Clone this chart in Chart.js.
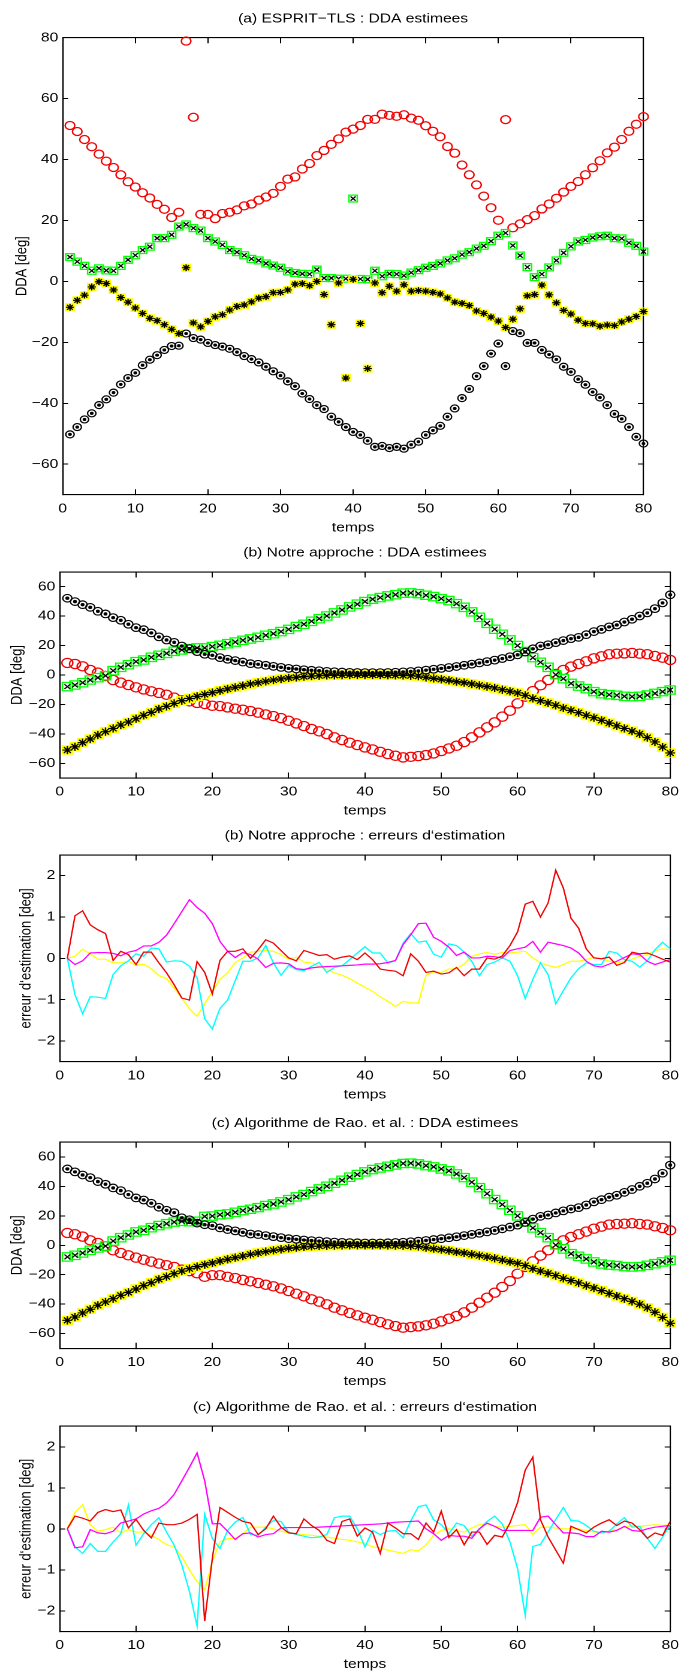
<!DOCTYPE html>
<html><head><meta charset="utf-8">
<script src="https://cdn.jsdelivr.net/npm/chart.js@4.4.1/dist/chart.umd.min.js"></script>
<style>
html,body{margin:0;padding:0;background:#fff;}
body{width:693px;height:1672px;position:relative;overflow:hidden;}
.p{position:absolute;left:0;transform-origin:0 0;transform:scaleX(1.19896);}
canvas{display:block;}
</style></head><body>
<div class="p" style="top:0px"><canvas id="ca" width="578" height="540"></canvas></div>
<div class="p" style="top:540px"><canvas id="cb" width="578" height="285"></canvas></div>
<div class="p" style="top:825px"><canvas id="cc" width="578" height="285"></canvas></div>
<div class="p" style="top:1110px"><canvas id="cd" width="578" height="285"></canvas></div>
<div class="p" style="top:1395px"><canvas id="ce" width="578" height="277"></canvas></div>
<script>
// ---------- data ----------
const temps = [1,2,3,4,5,6,7,8,9,10,11,12,13,14,15,16,17,18,19,20,21,22,23,24,25,26,27,28,29,30,31,32,33,34,35,36,37,38,39,40,41,42,43,44,45,46,47,48,49,50,51,52,53,54,55,56,57,58,59,60,61,62,63,64,65,66,67,68,69,70,71,72,73,74,75,76,77,78,79,80];
const xTicks = [0,10,20,30,40,50,60,70,80];
const yTicksA = [-60,-40,-20,0,20,40,60,80];
const yTicksDDA = [-60,-40,-20,0,20,40,60];
const yTicksErr = [-2,-1,0,1,2];

// (a) ESPRIT-TLS
const aRed = [51.2,49.2,46.6,44.2,41.8,39.5,37.4,35,32.7,31,29.1,27.4,25.3,23.7,21,22.7,78.9,53.9,22,22,20.6,22.3,22.7,23.5,24.8,25.4,26.7,27.7,28.9,31.2,33.6,34.3,36.9,38.7,41.3,43,45,46.8,49,50,51.2,53.2,53.2,54.9,54.5,54.2,54.7,53.6,52.9,51.1,49.3,47.5,44.3,42.1,38.2,35,31.7,28,24.2,20.1,53.1,17.6,18.9,20.3,21.6,23.8,25.4,27.3,29.3,31.2,32.8,35,37.3,39.6,42.2,44.1,46.6,49.3,51.6,54.1];
const aGreen = [8,6.5,5.1,3.5,4.3,3.6,3.5,5.1,7.1,8.6,10.3,11.4,14.2,14.2,15.3,18,18.7,17.5,16.7,14.2,13.1,12,10.3,9.6,8.6,7.4,6.9,5.9,5.2,4.5,3.3,2.8,2.5,2.4,3.9,1.1,1.1,0.9,0.9,27.2,0.8,0.7,3.5,1.7,2.5,2.4,1.9,2.9,3.7,4.5,5.1,5.9,6.9,7.6,8.8,9.6,10.8,11.7,13.2,15,15.9,11.8,8.5,4.7,1.4,2.4,4.6,6.9,9.4,11.5,13.1,13.6,14.4,14.8,15,14.2,14.1,12.7,11.7,9.8];
const aYellow = [-8.5,-6.2,-4.5,-1.8,-0.1,-0.7,-2.8,-5.3,-6.8,-8.7,-10.5,-12.1,-12.9,-14.2,-15.7,-17.1,4.5,-13.6,-14.9,-13.1,-11.6,-10.9,-9.4,-8.2,-7.7,-6.7,-5.5,-5,-3.7,-3.6,-2.8,-0.9,-0.7,-1.4,0,-4.3,-14.2,-0.5,-31.7,0.7,-13.8,-28.6,-0.5,-3.7,-1.6,-3.2,-1.1,-3.2,-3,-3.2,-3.6,-4.1,-5.4,-6.8,-7.2,-7.9,-9.7,-10.5,-11.7,-13,-15.1,-12.4,-9,-4.7,-4.3,-1.2,-4.4,-7,-9.5,-10.7,-12.7,-13.8,-13.9,-14.7,-14.3,-14.5,-13.3,-12.4,-11.5,-9.9];
const aBlack = [-50.2,-47.8,-45.3,-43.3,-40.6,-38.7,-36.5,-33.8,-31.7,-30,-27.5,-25.7,-24.2,-22.5,-21.2,-21.1,-17.1,-18.6,-19.1,-20.2,-20.9,-21.4,-22.1,-23.2,-24.5,-25.5,-26.6,-28,-29.5,-30.9,-32.8,-34.4,-36.8,-38.6,-40.6,-41.9,-44.4,-46.1,-47.8,-49.4,-50.4,-52.3,-54.3,-54,-54.7,-54.3,-54.9,-53.6,-52.6,-50.4,-48.9,-47.4,-44.4,-41.7,-38.3,-35.3,-31.1,-27.8,-23.7,-20.4,-27.8,-16.3,-17,-20.2,-20.2,-22.5,-24,-25.6,-28,-29.7,-32.1,-33.9,-36.3,-38.1,-40.6,-43.5,-45.1,-47.8,-51,-53.2];

// (b) Notre approche
const bBlack = [52.2,49.9,47.8,46,43.3,41.5,39,37.2,34.5,32.2,30.8,28.6,25.9,23.8,22.2,19.7,17.9,15.9,14.1,13.4,11.8,10.7,9.8,8.8,7.7,7.3,6.6,5.9,5.2,4.5,4.1,3.6,3.2,2.9,2.5,2.2,2,1.8,1.7,1.6,1.6,1.6,1.7,1.9,2.1,2.4,2.8,3.3,3.9,4.5,5.1,5.8,6.6,7.4,8.2,9.1,10.1,11.2,12.4,13.7,15.6,17.8,19.7,20.6,22,23.4,24.7,25.6,27.4,29.5,31,32.7,34,36,37.9,40.1,42.2,45.1,49,54.5];
const bGreen = [-7.9,-6.8,-5.2,-3.4,-1.8,-0.5,2.9,5.2,7,9.1,10.2,12,13.4,14.7,16.1,17,17.9,18.4,18.4,19.3,20.2,21.3,22.4,23.6,24.5,25.6,27,28.1,29.5,31,32.9,34.5,36.5,38.3,40.1,42.2,44.2,46.3,48.1,49.9,51.5,52.6,53.7,54.6,55.6,55.8,55.3,54.2,53.3,51.9,50.6,48.5,46,42.9,39.2,35.1,31.1,27.7,23.8,20,15.9,11.8,8.6,5.2,0.2,-2.5,-5.7,-7.5,-9.3,-11.3,-12.7,-13.4,-13.8,-14.5,-14.7,-14.5,-13.6,-12.5,-11.3,-10.2];
const bRed = [8.2,7.5,5.9,3.4,1.6,-0.7,-3.4,-5.2,-6.8,-8.4,-9.8,-11.1,-12.2,-13.4,-15.4,-17.2,-17.9,-19,-19.7,-20.9,-21.1,-22,-22.9,-23.6,-24.5,-25.6,-26.8,-27.9,-29.3,-31.1,-32.9,-34.7,-36.7,-38.3,-40.1,-42.4,-44.2,-46,-47.6,-49.2,-50.6,-52.2,-53.7,-54.9,-56,-55.6,-55.1,-54.4,-53.3,-51.7,-49.9,-48.1,-45.6,-42.4,-39,-35.6,-32.2,-28.3,-24.3,-19.3,-14.7,-10.9,-7,-3.4,0.7,3.4,5.7,7.5,9.3,11.3,12.7,14.1,14.5,14.7,15,14.5,14.1,12.9,11.8,10.2];
const bYellow = [-51,-48.8,-46,-43.5,-40.8,-38.5,-36.3,-34,-32,-29.7,-27.4,-25.4,-23.1,-21.3,-19.3,-17.5,-15.9,-14.5,-13.2,-12,-10.7,-9.5,-8.4,-7.3,-6.1,-5.2,-4.3,-3.4,-2.7,-2,-1.6,-1.1,-0.7,-0.5,-0.3,-0.2,-0.1,0,0,0,0,0,-0.1,-0.2,-0.3,-0.5,-0.8,-1.6,-2.3,-2.9,-3.6,-4.5,-5.2,-6.1,-7,-7.9,-8.8,-10,-11.1,-12.2,-13.8,-15.9,-17.5,-19,-20.6,-22.4,-24,-25.6,-27.4,-29,-30.8,-32.7,-34.5,-36.3,-38.1,-40,-42.5,-45.5,-49,-53];
const bErrRed = [0,1.03,1.15,0.81,0.69,0.6,-0.05,0.17,0.09,-0.15,0.15,0.15,-0.11,-0.35,-0.64,-0.96,-1.01,-0.08,-0.34,-0.86,-0.05,0.17,0.17,0.23,0,0.21,0.45,0.37,0.19,0.01,-0.06,0.19,0.13,0.07,0.09,-0.02,0.03,0.06,-0.03,0.13,-0.03,-0.26,-0.29,-0.31,-0.42,0.11,-0.07,-0.34,-0.31,-0.38,-0.35,-0.22,-0.42,-0.26,-0.26,0.01,-0.02,0.06,0.31,0.64,1.31,1.38,1,1.34,2.13,1.7,0.97,0.73,0.23,0.01,-0.01,0.03,-0.17,-0.1,0.15,0.11,0.13,0.06,-0.02,-0.09];
const bErrMagenta = [0,-0.15,-0.06,0.13,0.14,0.14,0.12,0.06,0.15,0.19,0.3,0.3,0.39,0.56,0.84,1.13,1.42,1.23,1.09,0.84,0.41,0.17,0.02,0.14,0.09,-0.02,-0.22,-0.12,-0.11,-0.13,-0.25,-0.27,-0.23,-0.21,-0.2,-0.19,-0.18,-0.17,-0.16,-0.14,-0.14,-0.13,-0.1,-0.05,0.33,0.57,0.84,0.85,0.51,0.41,0.27,0.07,0.15,0.01,0.01,0.05,0.04,0.01,0.19,0.23,0.27,0.41,0.15,0.39,0.35,0.31,0.25,0.13,-0.07,-0.18,-0.21,-0.14,-0.07,0.02,0.11,0.09,-0.07,-0.15,-0.09,-0.03];
const bErrYellow = [0,0.05,0.22,0.11,-0.02,-0.02,-0.11,-0.11,-0.07,-0.17,-0.14,-0.25,-0.42,-0.49,-0.72,-0.96,-1.22,-1.4,-1.1,-0.8,-0.51,-0.35,-0.1,0.01,0.15,0.17,0.19,0.17,0.09,-0.02,0.03,-0.09,-0.11,-0.19,-0.27,-0.35,-0.41,-0.49,-0.6,-0.7,-0.8,-0.93,-1.04,-1.16,-1.04,-1.08,-1.08,-0.41,-0.33,-0.34,-0.26,-0.25,-0.14,0.05,0.11,0.14,0.1,0.14,0.13,0.15,0.17,0.01,-0.11,-0.17,-0.22,-0.15,-0.07,-0.07,-0.03,0.03,-0.01,-0.07,-0.11,-0.07,-0.02,0.05,0.09,0.19,0.23,0.21];
const bErrCyan = [0,-0.88,-1.34,-0.93,-0.94,-0.97,-0.39,-0.18,-0.06,0.11,0.05,0.25,0.23,-0.09,-0.06,-0.07,-0.19,-0.47,-1.46,-1.71,-1.21,-1.01,-0.54,-0.07,-0.07,0.01,0.31,-0.11,-0.41,-0.17,-0.27,-0.3,-0.19,-0.1,-0.34,-0.22,-0.18,-0.03,0.13,0.28,0.13,0.13,-0.11,-0.06,0.37,0.6,0.39,0.42,0.1,0.03,0.35,0.31,0.15,-0.07,-0.42,-0.15,-0.09,0.01,-0.07,-0.42,-0.97,-0.51,-0.11,-0.39,-1.1,-0.78,-0.47,-0.25,-0.11,-0.15,-0.15,0.17,0.13,-0.03,-0.07,-0.21,-0.06,0.21,0.39,0.23];

// (c) Algorithme de Rao et al.
const cBlack = [51.9,49.9,47.8,46,43.3,41.5,39,37.2,34.5,32.2,30.8,28.6,25.9,23.8,22.2,18.7,17.4,15.1,14,13.4,11.8,10.7,9.8,8.8,7.7,7.3,6.6,5.9,5.2,4.5,4.1,3.6,3.2,2.9,2.5,2.2,2,1.8,1.7,1.6,1.6,1.6,1.7,1.9,2.1,2.4,2.8,3.3,3.9,4.5,5.1,5.8,6.6,7.4,8.2,9.1,10.1,11.2,12.4,13.7,15.6,17.8,19.7,20.6,22,23.4,24.7,25.6,27.4,29.5,31,32.7,34,36,37.9,40.1,42.2,45.1,49,54.5];
const cGreen = [-7.9,-6.8,-5.2,-3.4,-1.8,-0.5,2.9,5.2,7,9.1,10.2,12,13.4,14.7,15.8,16.3,16,16.3,19.6,19.9,20.8,21.3,22.4,23.6,24.5,25.6,27,28.1,29.5,31,32.9,34.5,36.5,38.3,40.1,42.2,44.2,46.3,48.1,49.9,51.5,52.6,53.7,54.6,55.6,55.8,55.3,54.2,53.3,51.9,50.6,48.5,46,42.9,39.2,35.1,31.1,27.7,23.8,20,15.9,11.8,8.6,5.2,0.2,-2.5,-5.7,-7.5,-9.3,-11.3,-12.7,-13.4,-13.8,-14.5,-14.7,-14.5,-13.6,-12.5,-11.3,-10.2];
const cRed = [8.4,7.5,5.9,3.4,1.6,-0.7,-3.4,-5.2,-6.8,-8.4,-9.8,-11.1,-12.4,-13.5,-14.7,-16.5,-17.6,-19,-21.4,-20.3,-20.3,-21.4,-22.3,-23.5,-24.5,-25.6,-26.8,-27.9,-29.3,-31.1,-32.9,-34.7,-36.7,-38.3,-40.1,-42.4,-44.2,-46,-47.6,-49.2,-50.6,-52.2,-53.7,-54.9,-56,-55.6,-55.1,-54.4,-53.3,-51.7,-49.9,-48.1,-45.6,-42.4,-39,-35.6,-32.2,-28.3,-24.3,-19.3,-14.7,-10.9,-7,-3.4,0.7,3.4,5.7,7.5,9.3,11.3,12.7,14.1,14.5,14.7,15,14.5,14.1,12.9,11.8,10.2];
const cYellow = [-51,-48.8,-46,-43.5,-40.8,-38.5,-36.3,-34,-32,-29.7,-27.4,-25.4,-23.1,-21.3,-19.3,-17.5,-15.9,-14.5,-13.2,-12,-10.7,-9.5,-8.4,-7.3,-6.1,-5.2,-4.3,-3.4,-2.7,-2,-1.6,-1.1,-0.7,-0.5,-0.3,-0.2,-0.1,0,0,0,0,0,-0.1,-0.2,-0.3,-0.5,-0.8,-1.6,-2.3,-2.9,-3.6,-4.5,-5.2,-6.1,-7,-7.9,-8.8,-10,-11.1,-12.2,-13.8,-15.9,-17.5,-19,-20.6,-22.4,-24,-25.6,-27.4,-29,-30.8,-32.7,-34.5,-36.3,-38.1,-40,-42.5,-45.5,-49,-53];
const cErrRed = [0,0.31,0.26,0.19,0.4,0.47,0.42,0.46,0.02,0.23,-0.04,-0.22,0.14,0.1,0.1,0.14,0.23,0.35,-2.25,-0.72,0.52,0.4,0.28,0.18,0.14,-0.14,0,0.31,0.04,-0.1,-0.12,0.24,0.08,-0.04,-0.28,-0.36,0.18,0.24,-0.18,0.02,-0.08,-0.6,0.14,0.02,-0.12,-0.12,-0.26,0.14,-0.08,0.43,-0.21,-0.02,-0.39,-0.08,-0.08,-0.38,-0.16,-0.2,0.14,0.64,1.43,1.75,0.22,-0.2,-0.52,-0.84,0.06,-0.02,-0.1,0.04,0.14,0.22,0.08,0.19,0.14,-0.02,-0.23,-0.1,-0.16,0.18];
const cErrMagenta = [0,-0.46,-0.44,-0.02,-0.1,-0.12,-0.06,0.14,0.19,0.24,0.36,0.44,0.5,0.63,0.84,1.17,1.5,1.85,1.17,0.12,0.13,-0.06,-0.26,-0.12,-0.1,-0.2,-0.14,-0.12,0.02,0.03,0.03,0.03,0.03,0.04,0.05,0.06,0.07,0.08,0.09,0.1,0.11,0.12,0.14,0.16,0.17,0.18,0.19,0,-0.12,-0.28,-0.16,-0.18,-0.18,-0.23,0,0.14,0.06,-0.04,-0.04,-0.04,-0.04,-0.04,0.28,0.31,0.1,-0.1,-0.1,-0.12,-0.19,-0.19,-0.06,-0.08,-0.04,0.06,-0.04,-0.06,0,0.04,0.06,0.08];
const cErrYellow = [0,0.4,0.59,0.1,-0.06,-0.02,0.04,-0.1,-0.02,-0.08,-0.08,-0.16,-0.26,-0.39,-0.44,-0.68,-1,-1.29,-1.49,-0.8,-0.32,-0.24,-0.23,-0.12,0.04,0.04,0.04,0,-0.06,-0.1,-0.12,-0.14,-0.16,-0.18,-0.2,-0.23,-0.26,-0.28,-0.32,-0.36,-0.44,-0.47,-0.52,-0.56,-0.6,-0.51,-0.54,-0.39,-0.16,-0.04,0,-0.04,-0.08,0.02,0.1,0.12,0.06,0.04,0.06,0.08,0.1,-0.14,0.04,0.04,0.02,0,0,0,-0.04,-0.08,-0.1,-0.06,-0.02,0.04,0.08,0.06,0.08,0.1,0.08,0.1];
const cErrCyan = [0,-0.44,-0.6,-0.36,-0.55,-0.55,-0.32,-0.12,0.58,-0.4,-0.12,0.1,0.27,-0.08,-0.4,-0.88,-1.53,-2.37,0.36,-0.24,-0.48,-0.04,0.16,0.28,-0.14,-0.16,0.04,0.2,0.18,-0.08,-0.14,-0.18,-0.22,-0.2,-0.14,0.27,0.31,0.31,0,-0.44,-0.04,-0.14,-0.06,-0.04,-0.22,0.19,0.54,0.58,0.22,0.1,-0.12,0.14,0.08,-0.18,0,0.18,0.31,0.12,-0.32,-0.97,-2.11,-0.43,-0.38,-0.08,0.23,0.52,0.2,0.19,0.08,-0.06,-0.1,-0.06,0.12,0.27,0.04,0.06,-0.23,-0.48,-0.2,0.1];

// ---------- helpers ----------
const FONT = "'Liberation Sans', Arial, Helvetica, sans-serif";
Chart.defaults.font.family = FONT;
Chart.defaults.font.size = 13;
Chart.defaults.color = '#000';
const RED='#f00000', GREEN='#00ff00', YEL='#ffff00', BLK='#000000', CYA='#00ffff', MAG='#ff00ff';

const minus = v => String(v).replace('-', '\u2212');
const pts = vals => vals.map((v,i)=>({x:temps[i], y:v}));
const setTicks = arr => (s => { s.ticks = arr.map(v=>({value:v})); });

function makeScales(L){
  const gx = {drawOnChartArea:false, drawTicks:true, tickLength:-5.5, color:'#000', lineWidth:1};
  const gy = {drawOnChartArea:false, drawTicks:true, tickLength:-4.6, color:'#000', lineWidth:1};
  const border = {display:true, color:'#000', width:1.1};
  return {
    x:{type:'linear', position:'bottom', min:0, max:80, afterBuildTicks:setTicks(xTicks),
       grid:gx, border, ticks:{padding:11.8, callback:minus, autoSkip:false, maxRotation:0},
       title:{display:true, text:'temps', padding:{top:0,bottom:L.xtb}},
       afterFit:s=>{s.height=L.xh;}},
    x2:{type:'linear', position:'top', min:0, max:80, afterBuildTicks:setTicks(xTicks),
       grid:gx, border, ticks:{display:false}, afterFit:s=>{s.height=0;}},
    y:{type:'linear', position:'left', min:L.ymin, max:L.ymax, afterBuildTicks:setTicks(L.yt),
       grid:gy, border, ticks:{padding:8.3, callback:minus, autoSkip:false},
       title:{display:true, text:L.ytitle, padding:{top:L.ytp,bottom:0}},
       afterFit:s=>{s.width=L.left;}},
    y2:{type:'linear', position:'right', min:L.ymin, max:L.ymax, afterBuildTicks:setTicks(L.yt),
       grid:gy, border, ticks:{display:false}, afterFit:s=>{s.width=L.rw;}}
  };
}

function baseOptions(L){
  return {
    responsive:false, animation:false, devicePixelRatio:2, events:[],
    layout:{padding:0},
    plugins:{
      legend:{display:false}, tooltip:{enabled:false},
      title:{display:true, text:L.title, fullSize:false, color:'#000',
             font:{size:13, weight:'normal'}, padding:{top:L.tpt, bottom:L.tpb}}
    },
    scales:makeScales(L)
  };
}

function marker(data, style, r, stroke, fill, order, w){
  return {data:pts(data), showLine:false, clip:false, pointStyle:style, pointRadius:r,
          pointBorderColor:stroke, pointBackgroundColor:fill, pointBorderWidth:w||1.15, order:order};
}
function ddaSets(red, green, yellow, black, S){
  return [
    marker(red, 'circle', S.rc, RED, 'rgba(0,0,0,0)', 6, 1.25),
    marker(green, 'rect', S.sq, GREEN, 'rgba(0,0,0,0)', 5, 1.25),
    marker(green, 'crossRot', S.x, BLK, BLK, 4),
    marker(yellow, 'rect', S.sq, YEL, YEL, 3),
    marker(yellow, 'star', S.st, BLK, BLK, 2),
    marker(black, 'circle', S.bc, BLK, 'rgba(0,0,0,0)', 1),
    marker(black, 'circle', S.dot, BLK, BLK, 0)
  ];
}
function line(data, color, order){
  return {data:pts(data), showLine:true, pointRadius:0, borderColor:color, borderWidth:1.2,
          tension:0, clip:false, order:order};
}
function errSets(red, mag, yel, cya){
  return [line(red,RED,0), line(mag,MAG,1), line(cya,CYA,2), line(yel,YEL,3)];
}

// ---------- panels ----------
const smallA = {rc:4, sq:4.9, x:3, st:3.4, bc:3.5, dot:1};
const bigM = {rc:4.6, sq:5.9, x:3.4, st:4.1, bc:3.8, dot:1.1};

new Chart(document.getElementById('ca'), {type:'scatter',
  data:{datasets:ddaSets(aRed, aGreen, aYellow, aBlack, smallA)},
  options:baseOptions({title:'(a) ESPRIT\u2212TLS : DDA estimees', tpt:10.9, tpb:11.2,
    xh:45.3, xtb:4.5, ymin:-70, ymax:80, yt:yTicksA, ytitle:'DDA [deg]', ytp:10.5, left:52.3, rw:41.3})});

new Chart(document.getElementById('cb'), {type:'scatter',
  data:{datasets:ddaSets(bRed, bGreen, bYellow, bBlack, bigM)},
  options:baseOptions({title:'(b) Notre approche : DDA estimees', tpt:5.2, tpb:11.2,
    xh:47, xtb:6.2, ymin:-70, ymax:70, yt:yTicksDDA, ytitle:'DDA [deg]', ytp:6.4, left:49.8, rw:8.9})});

new Chart(document.getElementById('cc'), {type:'scatter',
  data:{datasets:errSets(bErrRed, bErrMagenta, bErrYellow, bErrCyan)},
  options:baseOptions({title:'(b) Notre approche : erreurs d\u2018estimation', tpt:3.2, tpb:11.2,
    xh:48.3, xtb:7.5, ymin:-2.5, ymax:2.5, yt:yTicksErr, ytitle:'erreur d\u2018estimation [deg]', ytp:14.3, left:49.8, rw:8.9})});

new Chart(document.getElementById('cd'), {type:'scatter',
  data:{datasets:ddaSets(cRed, cGreen, cYellow, cBlack, bigM)},
  options:baseOptions({title:'(c) Algorithme de Rao. et al. : DDA estimees', tpt:5.5, tpb:11.2,
    xh:46.7, xtb:5.9, ymin:-70, ymax:70, yt:yTicksDDA, ytitle:'DDA [deg]', ytp:6.4, left:49.8, rw:8.9})});

new Chart(document.getElementById('ce'), {type:'scatter',
  data:{datasets:errSets(cErrRed, cErrMagenta, cErrYellow, cErrCyan)},
  options:baseOptions({title:'(c) Algorithme de Rao. et al. : erreurs d\u2018estimation', tpt:4.5, tpb:11.2,
    xh:40.7, xtb:0, ymin:-2.5, ymax:2.5, yt:yTicksErr, ytitle:'erreur d\u2018estimation [deg]', ytp:14.3, left:49.8, rw:8.9})});
</script>
</body></html>
